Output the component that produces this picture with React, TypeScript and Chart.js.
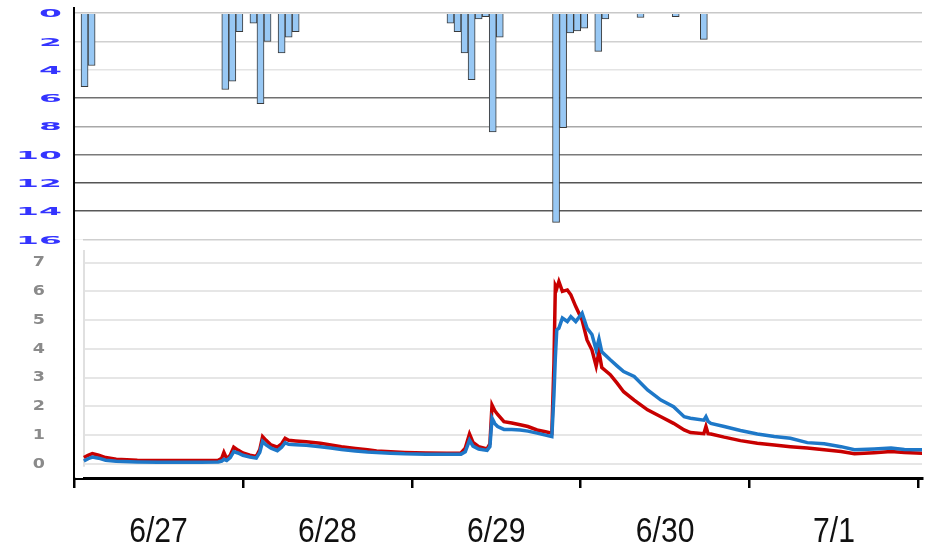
import React, { useEffect, useRef } from "react";
import { Chart, registerables } from "chart.js";

Chart.register(...registerables);

// ---- data (hours counted from 6/27 00:00) ----
const rainHours = [1, 2, 21, 22, 23, 25, 26, 27, 29, 30, 31, 53, 54, 55, 56, 57, 58, 59, 60, 68, 69, 70, 71, 72, 74, 75, 80, 85, 89];
const rainValues = [5.2, 3.7, 5.4, 4.8, 1.3, 0.7, 6.4, 2.0, 2.8, 1.7, 1.3, 0.7, 1.3, 2.8, 4.7, 0.4, 0.25, 8.4, 1.7, 14.8, 8.1, 1.4, 1.25, 1.05, 2.7, 0.4, 0.3, 0.25, 1.85];

const rainTicks = [0, 2, 4, 6, 8, 10, 12, 14, 16];
const levelTicks = [0, 1, 2, 3, 4, 5, 6, 7];
const dayTicks = [0, 24, 48, 72, 96, 120];
const dayLabelHours = [12, 36, 60, 84, 108];
const dayLabels = ["6/27", "6/28", "6/29", "6/30", "7/1"];

const levelHours = [
  1.4, 2.0, 2.6, 3.5, 4.5, 6, 9, 12, 15, 18,
  20.5, 21.0, 21.3, 21.7, 22.2, 22.7, 23.3, 24, 25, 25.9,
  26.4, 26.8, 27.3, 28, 28.9, 29.5, 30, 30.5, 31.5, 33,
  35, 36.5, 38, 40, 41.7, 43, 45, 47, 50, 53,
  55, 55.6, 56.2, 56.7, 57.5, 58.7, 59.1, 59.4, 59.8, 60.2,
  61.1, 62.2, 63.4, 64.5, 65.8, 67, 67.9, 68.2, 68.4, 68.6,
  68.9, 69.4, 70.1, 70.6, 71.3, 72.2, 72.9, 73.6, 74.2, 74.6,
  75.0, 76.2, 77.2, 78.1, 79.6, 81.5, 83.4, 85.2, 86.7, 87.6,
  89.5, 89.8, 90.1, 90.5, 92.4, 94.7, 97.1, 99.5, 101.8, 104.2,
  106.6, 109, 110.9, 113.7, 116.1, 118, 120.6,
];
const redLevel = [
  0.22, 0.30, 0.36, 0.30, 0.22, 0.16, 0.13, 0.12, 0.12, 0.12,
  0.13, 0.20, 0.40, 0.18, 0.30, 0.58, 0.48, 0.38, 0.30, 0.26,
  0.50, 0.95, 0.82, 0.66, 0.58, 0.70, 0.89, 0.82, 0.80, 0.77,
  0.72, 0.66, 0.60, 0.54, 0.49, 0.45, 0.42, 0.40, 0.38, 0.37,
  0.38, 0.55, 1.04, 0.75, 0.60, 0.52, 0.70, 2.05, 1.85, 1.72,
  1.47, 1.42, 1.36, 1.30, 1.18, 1.12, 1.07, 3.5, 6.2, 6.1,
  6.34, 6.0, 6.05, 5.88, 5.47, 5.0, 4.31, 3.96, 3.40, 3.9,
  3.35, 3.1, 2.8, 2.51, 2.22, 1.88, 1.64, 1.41, 1.18, 1.09,
  1.05, 1.30, 1.05, 1.04, 0.93, 0.81, 0.72, 0.66, 0.60, 0.55,
  0.49, 0.43, 0.35, 0.39, 0.43, 0.40, 0.37,
];
const blueLevel = [
  0.10, 0.18, 0.24, 0.20, 0.13, 0.09, 0.07, 0.06, 0.06, 0.06,
  0.07, 0.10, 0.16, 0.12, 0.22, 0.43, 0.38, 0.30, 0.24, 0.20,
  0.40, 0.78, 0.66, 0.55, 0.46, 0.58, 0.74, 0.68, 0.67, 0.65,
  0.60, 0.55, 0.50, 0.45, 0.41, 0.40, 0.37, 0.35, 0.34, 0.34,
  0.34, 0.42, 0.83, 0.62, 0.52, 0.47, 0.60, 1.59, 1.40, 1.30,
  1.20, 1.20, 1.18, 1.14, 1.07, 1.00, 0.95, 2.4, 3.7, 4.66,
  4.72, 5.07, 4.95, 5.12, 4.95, 5.24, 4.72, 4.50, 3.96, 4.35,
  3.9, 3.62, 3.40, 3.21, 3.04, 2.57, 2.22, 1.99, 1.64, 1.59,
  1.52, 1.64, 1.48, 1.41, 1.30, 1.16, 1.04, 0.95, 0.89, 0.74,
  0.70, 0.60, 0.49, 0.52, 0.55, 0.50, 0.49,
];

const rainGridColors: Record<number, string> = {
  0: "#c8c8c8", 2: "#d0d0d0", 4: "#e4e4e4", 6: "#707070", 8: "#a8a8a8",
  10: "#7a7a7a", 12: "#555555", 14: "#585858", 16: "#cfcfcf",
};

function drawScaled(ctx: any, text: string, x: number, y: number, sx: number, sy: number) {
  ctx.save();
  ctx.translate(x, y);
  ctx.scale(sx, sy);
  ctx.fillText(text, 0, 0);
  ctx.restore();
}

const labelsPlugin = {
  id: "customLabels",
  afterDraw(chart: any) {
    const ctx = chart.ctx;
    const rain = chart.scales.rain;
    const level = chart.scales.level;
    const x = chart.scales.x;
    ctx.save();
    // rain axis labels (blue, stretched)
    ctx.fillStyle = "#3434ff";
    ctx.font = 'bold 11px "DejaVu Sans", "Liberation Sans", sans-serif';
    ctx.textAlign = "right";
    ctx.textBaseline = "middle";
    rainTicks.forEach((v) => drawScaled(ctx, String(v), 62, rain.getPixelForValue(v) + 1.5, 3.0, 0.95));
    // level axis labels (gray)
    ctx.fillStyle = "#8a8a8a";
    ctx.font = 'bold 14px "DejaVu Sans", "Liberation Sans", sans-serif';
    levelTicks.forEach((v) => drawScaled(ctx, String(v), 45, level.getPixelForValue(v), 1.25, 1));
    // date labels (condensed)
    ctx.fillStyle = "#111111";
    ctx.font = '35px "Liberation Sans", Arial, sans-serif';
    ctx.textAlign = "center";
    ctx.textBaseline = "alphabetic";
    dayLabelHours.forEach((h, i) => drawScaled(ctx, dayLabels[i], x.getPixelForValue(h), 542, 0.86, 1));
    ctx.restore();
  },
};

const levelFramePlugin = {
  id: "levelFrame",
  beforeDatasetsDraw(chart: any) {
    const s = chart.scales.level;
    const ctx = chart.ctx;
    const left = chart.chartArea.left;
    ctx.save();
    ctx.fillStyle = "#ffffff";
    ctx.fillRect(left + 1.2, s.top, 7.8, s.bottom - s.top);
    ctx.strokeStyle = "#e0e0e0";
    ctx.lineWidth = 2;
    ctx.beginPath();
    ctx.moveTo(left + 10, s.getPixelForValue(7.44));
    ctx.lineTo(left + 10, s.getPixelForValue(-0.1));
    ctx.stroke();
    ctx.restore();
  },
};

export default function App() {
  const ref = useRef<HTMLCanvasElement | null>(null);

  useEffect(() => {
    if (!ref.current) return;
    const chart = new Chart(ref.current, {
      type: "line",
      data: {
        datasets: [
          {
            type: "line",
            label: "blue",
            data: levelHours.map((h, i) => ({ x: h, y: blueLevel[i] })),
            yAxisID: "level",
            xAxisID: "x",
            borderColor: "#1e78c8",
            borderWidth: 3.5,
            pointRadius: 0,
            tension: 0,
            order: 1,
          },
          {
            type: "line",
            label: "red",
            data: levelHours.map((h, i) => ({ x: h, y: redLevel[i] })),
            yAxisID: "level",
            xAxisID: "x",
            borderColor: "#c80000",
            borderWidth: 3.5,
            pointRadius: 0,
            tension: 0,
            order: 2,
          },
          {
            type: "bar",
            label: "rain",
            data: rainHours.map((h, i) => ({ x: h + 0.5, y: rainValues[i] })),
            yAxisID: "rain",
            xAxisID: "x",
            backgroundColor: "#98c8f4",
            borderColor: "#3a3a3a",
            borderWidth: 1,
            barPercentage: 1,
            categoryPercentage: 1,
            order: 3,
          } as any,
        ],
      },
      options: {
        responsive: false,
        animation: false,
        devicePixelRatio: 1,
        layout: { padding: { top: 8.3, left: 0, right: 7, bottom: 0 } },
        plugins: { legend: { display: false }, tooltip: { enabled: false }, title: { display: false } },
        scales: {
          x: {
            type: "linear",
            position: "bottom",
            min: 0,
            max: 120.5,
            offset: false,
            afterBuildTicks: (s: any) => {
              s.ticks = dayTicks.map((v) => ({ value: v }));
            },
            afterFit: (s: any) => {
              s.height = 78;
            },
            border: { display: true, color: "#000000", width: 3 },
            grid: {
              drawOnChartArea: false,
              drawTicks: true,
              tickLength: 10,
              lineWidth: 2.5,
              offset: false,
              color: "#000000",
            },
            ticks: { display: false },
          },
          rain: {
            type: "linear",
            position: "left",
            stack: "v",
            stackWeight: 231,
            weight: 1,
            reverse: true,
            min: -0.35,
            max: 16,
            afterBuildTicks: (s: any) => {
              s.ticks = rainTicks.map((v) => ({ value: v }));
            },
            afterFit: (s: any) => {
              s.width = 74;
            },
            border: { display: true, color: "#000000", width: 2 },
            grid: {
              drawTicks: false,
              lineWidth: 1.5,
              color: (c: any) => (c.tick ? rainGridColors[c.tick.value] || "#cccccc" : "#cccccc"),
            },
            ticks: { display: false },
          },
          level: {
            type: "linear",
            position: "left",
            stack: "v",
            stackWeight: 238.7,
            weight: 0,
            min: -0.49,
            max: 7.81,
            afterBuildTicks: (s: any) => {
              s.ticks = levelTicks.map((v) => ({ value: v }));
            },
            afterFit: (s: any) => {
              s.width = 74;
            },
            border: { display: true, color: "#000000", width: 2 },
            grid: { drawTicks: false, lineWidth: 2, color: "#e6e6e6" },
            ticks: { display: false },
          },
        } as any,
      },
      plugins: [labelsPlugin, levelFramePlugin],
    });
    return () => chart.destroy();
  }, []);

  return (
    <div style={{ position: "absolute", left: 0, top: 0, width: 929, height: 556, background: "#ffffff" }}>
      <canvas ref={ref} width={929} height={556} style={{ display: "block", width: 929, height: 556 }} />
    </div>
  );
}
